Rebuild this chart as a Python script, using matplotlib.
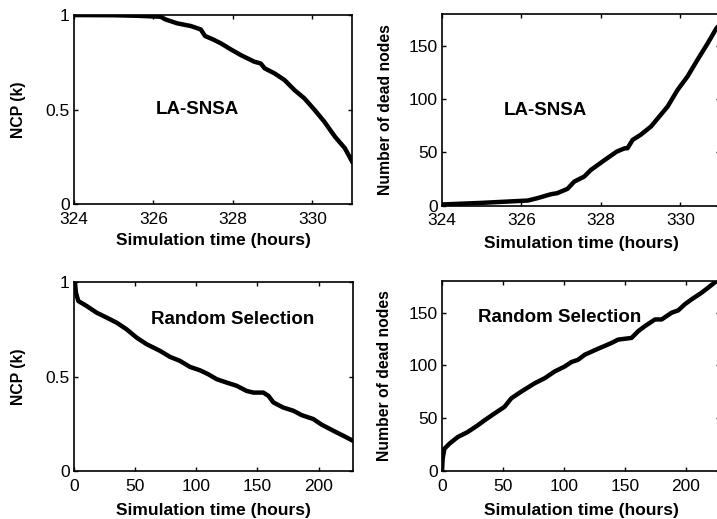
import numpy as np
import matplotlib
matplotlib.use('Agg')
import matplotlib.pyplot as plt

plt.rcParams['font.family'] = ['Liberation Sans', 'DejaVu Sans']

# LA-SNSA, NCP vs time
la_ncp_t = [324.0, 325.0, 325.6, 326.18, 326.3, 326.6, 326.94, 327.19, 327.3, 327.5, 327.7,
            327.95, 328.2, 328.54, 328.7, 328.8, 329.05, 329.3, 329.55, 329.8, 330.06,
            330.3, 330.57, 330.82, 331.0]
la_ncp = [1.0, 0.999, 0.996, 0.991, 0.977, 0.956, 0.942, 0.924, 0.889, 0.871, 0.85,
          0.818, 0.788, 0.753, 0.744, 0.718, 0.691, 0.656, 0.603, 0.559, 0.497,
          0.436, 0.356, 0.295, 0.225]

# LA-SNSA, dead nodes vs time
la_dead_t = [324.0, 325.0, 326.16, 326.4, 326.74, 326.9, 327.16, 327.33, 327.58, 327.75,
             328.1, 328.4, 328.6, 328.67, 328.8, 329.0, 329.26, 329.47, 329.68, 329.93,
             330.18, 330.43, 330.69, 330.91, 331.0]
la_dead = [1, 2.5, 4.7, 6.9, 10.6, 11.6, 15.7, 22.5, 27.2, 33.5,
           42.9, 50.7, 53.8, 53.8, 61.7, 66.4, 74.2, 83.6, 93, 108.6,
           121.2, 136.8, 152.5, 166.6, 170]

# Random Selection, NCP vs time
rs_ncp_t = [0, 0.8, 1.6, 3.5, 10.4, 18.5, 26.7, 34.9, 43, 51.2, 59.4, 70.3, 78.5, 86.6,
            94.8, 103, 109.8, 116.6, 124.8, 133, 141, 146.6, 154.8, 158.9, 163, 171,
            179.3, 186, 195.6, 202.5, 212, 220, 228]
rs_ncp = [1.0, 0.997, 0.944, 0.90, 0.873, 0.838, 0.812, 0.785, 0.75, 0.706, 0.671, 0.636,
          0.604, 0.583, 0.551, 0.533, 0.512, 0.486, 0.468, 0.451, 0.424, 0.415, 0.415,
          0.398, 0.363, 0.336, 0.319, 0.296, 0.275, 0.245, 0.213, 0.187, 0.16]

# Random Selection, dead nodes vs time
rs_dead_t = [0, 0.5, 1.9, 6, 12.9, 21, 29.3, 34.8, 43, 51.2, 56.7, 64.9, 75.9, 84.1, 92.3,
             100.5, 106, 111.5, 117, 128, 138.9, 144.3, 155.3, 160.8, 166.3, 174.5, 180,
             188.2, 193.6, 199, 204.6, 212.8, 218.3, 225]
rs_dead = [0, 11.5, 21, 25.8, 32.2, 36.9, 43.3, 48, 54.5, 60.8, 68.8, 75.2, 83.1, 87.9,
           94.3, 99, 103.2, 105.4, 110.2, 115.9, 121.3, 124.5, 126.1, 132.5, 137.3, 143.6,
           143.6, 150, 152.2, 158, 162.7, 169, 173.9, 180]

xlabel = 'Simulation time (hours)'

fig = plt.figure(figsize=(7.17, 5.19), dpi=100)

axes_pos = [
    [0.1032, 0.607, 0.3878, 0.364],
    [0.6165, 0.604, 0.3877, 0.369],
    [0.1032, 0.0925, 0.3890, 0.364],
    [0.6165, 0.0925, 0.3880, 0.366],
]
ylab_x = [-0.201, -0.205, -0.199, -0.207]
xlab_y = [-0.196, -0.196, -0.21, -0.21]

panels = [
    (la_ncp_t, la_ncp, (324, 331), (0, 1), [324, 326, 328, 330], [0, 0.5, 1],
     ['0', '0.5', '1'], 'NCP (k)', 'LA-SNSA', (327.1, 0.5)),
    (la_dead_t, la_dead, (324, 331), (0, 180), [324, 326, 328, 330], [0, 50, 100, 150],
     ['0', '50', '100', '150'], 'Number of dead nodes', 'LA-SNSA', (326.6, 89)),
    (rs_ncp_t, rs_ncp, (0, 228), (0, 1), [0, 50, 100, 150, 200], [0, 0.5, 1],
     ['0', '0.5', '1'], 'NCP (k)', 'Random Selection', (130, 0.80)),
    (rs_dead_t, rs_dead, (0, 228), (0, 180), [0, 50, 100, 150, 200], [0, 50, 100, 150],
     ['0', '50', '100', '150'], 'Number of dead nodes', 'Random Selection', (96, 145)),
]

for i, (pos, (x, y, xl, yl, xt, yt, ytl, ylab, title, tpos)) in enumerate(zip(axes_pos, panels)):
    ax = fig.add_axes(pos)
    ax.plot(x, y, color='black', linewidth=3.2, solid_joinstyle='round')
    ax.set_xlim(*xl)
    ax.set_ylim(*yl)
    ax.set_xticks(xt)
    ax.set_xticklabels([str(v) for v in xt])
    ax.set_yticks(yt)
    ax.set_yticklabels(ytl)
    ax.tick_params(direction='in', top=True, right=True, length=3, width=1,
                   labelsize=12.5)
    ax.tick_params(axis='x', pad=5.5)
    ax.tick_params(axis='y', pad=3)
    for sp in ax.spines.values():
        sp.set_linewidth(1.2)
    ax.set_xlabel(xlabel, fontsize=12.5, fontweight='bold', va='center')
    ax.set_ylabel(ylab, fontsize=11.3, fontweight='bold', va='center')
    ax.xaxis.set_label_coords(0.5, xlab_y[i])
    ax.yaxis.set_label_coords(ylab_x[i], 0.5)
    ax.text(tpos[0], tpos[1], title, fontsize=13.5, fontweight='bold',
            ha='center', va='center')

fig.savefig('out.png', dpi=100)
